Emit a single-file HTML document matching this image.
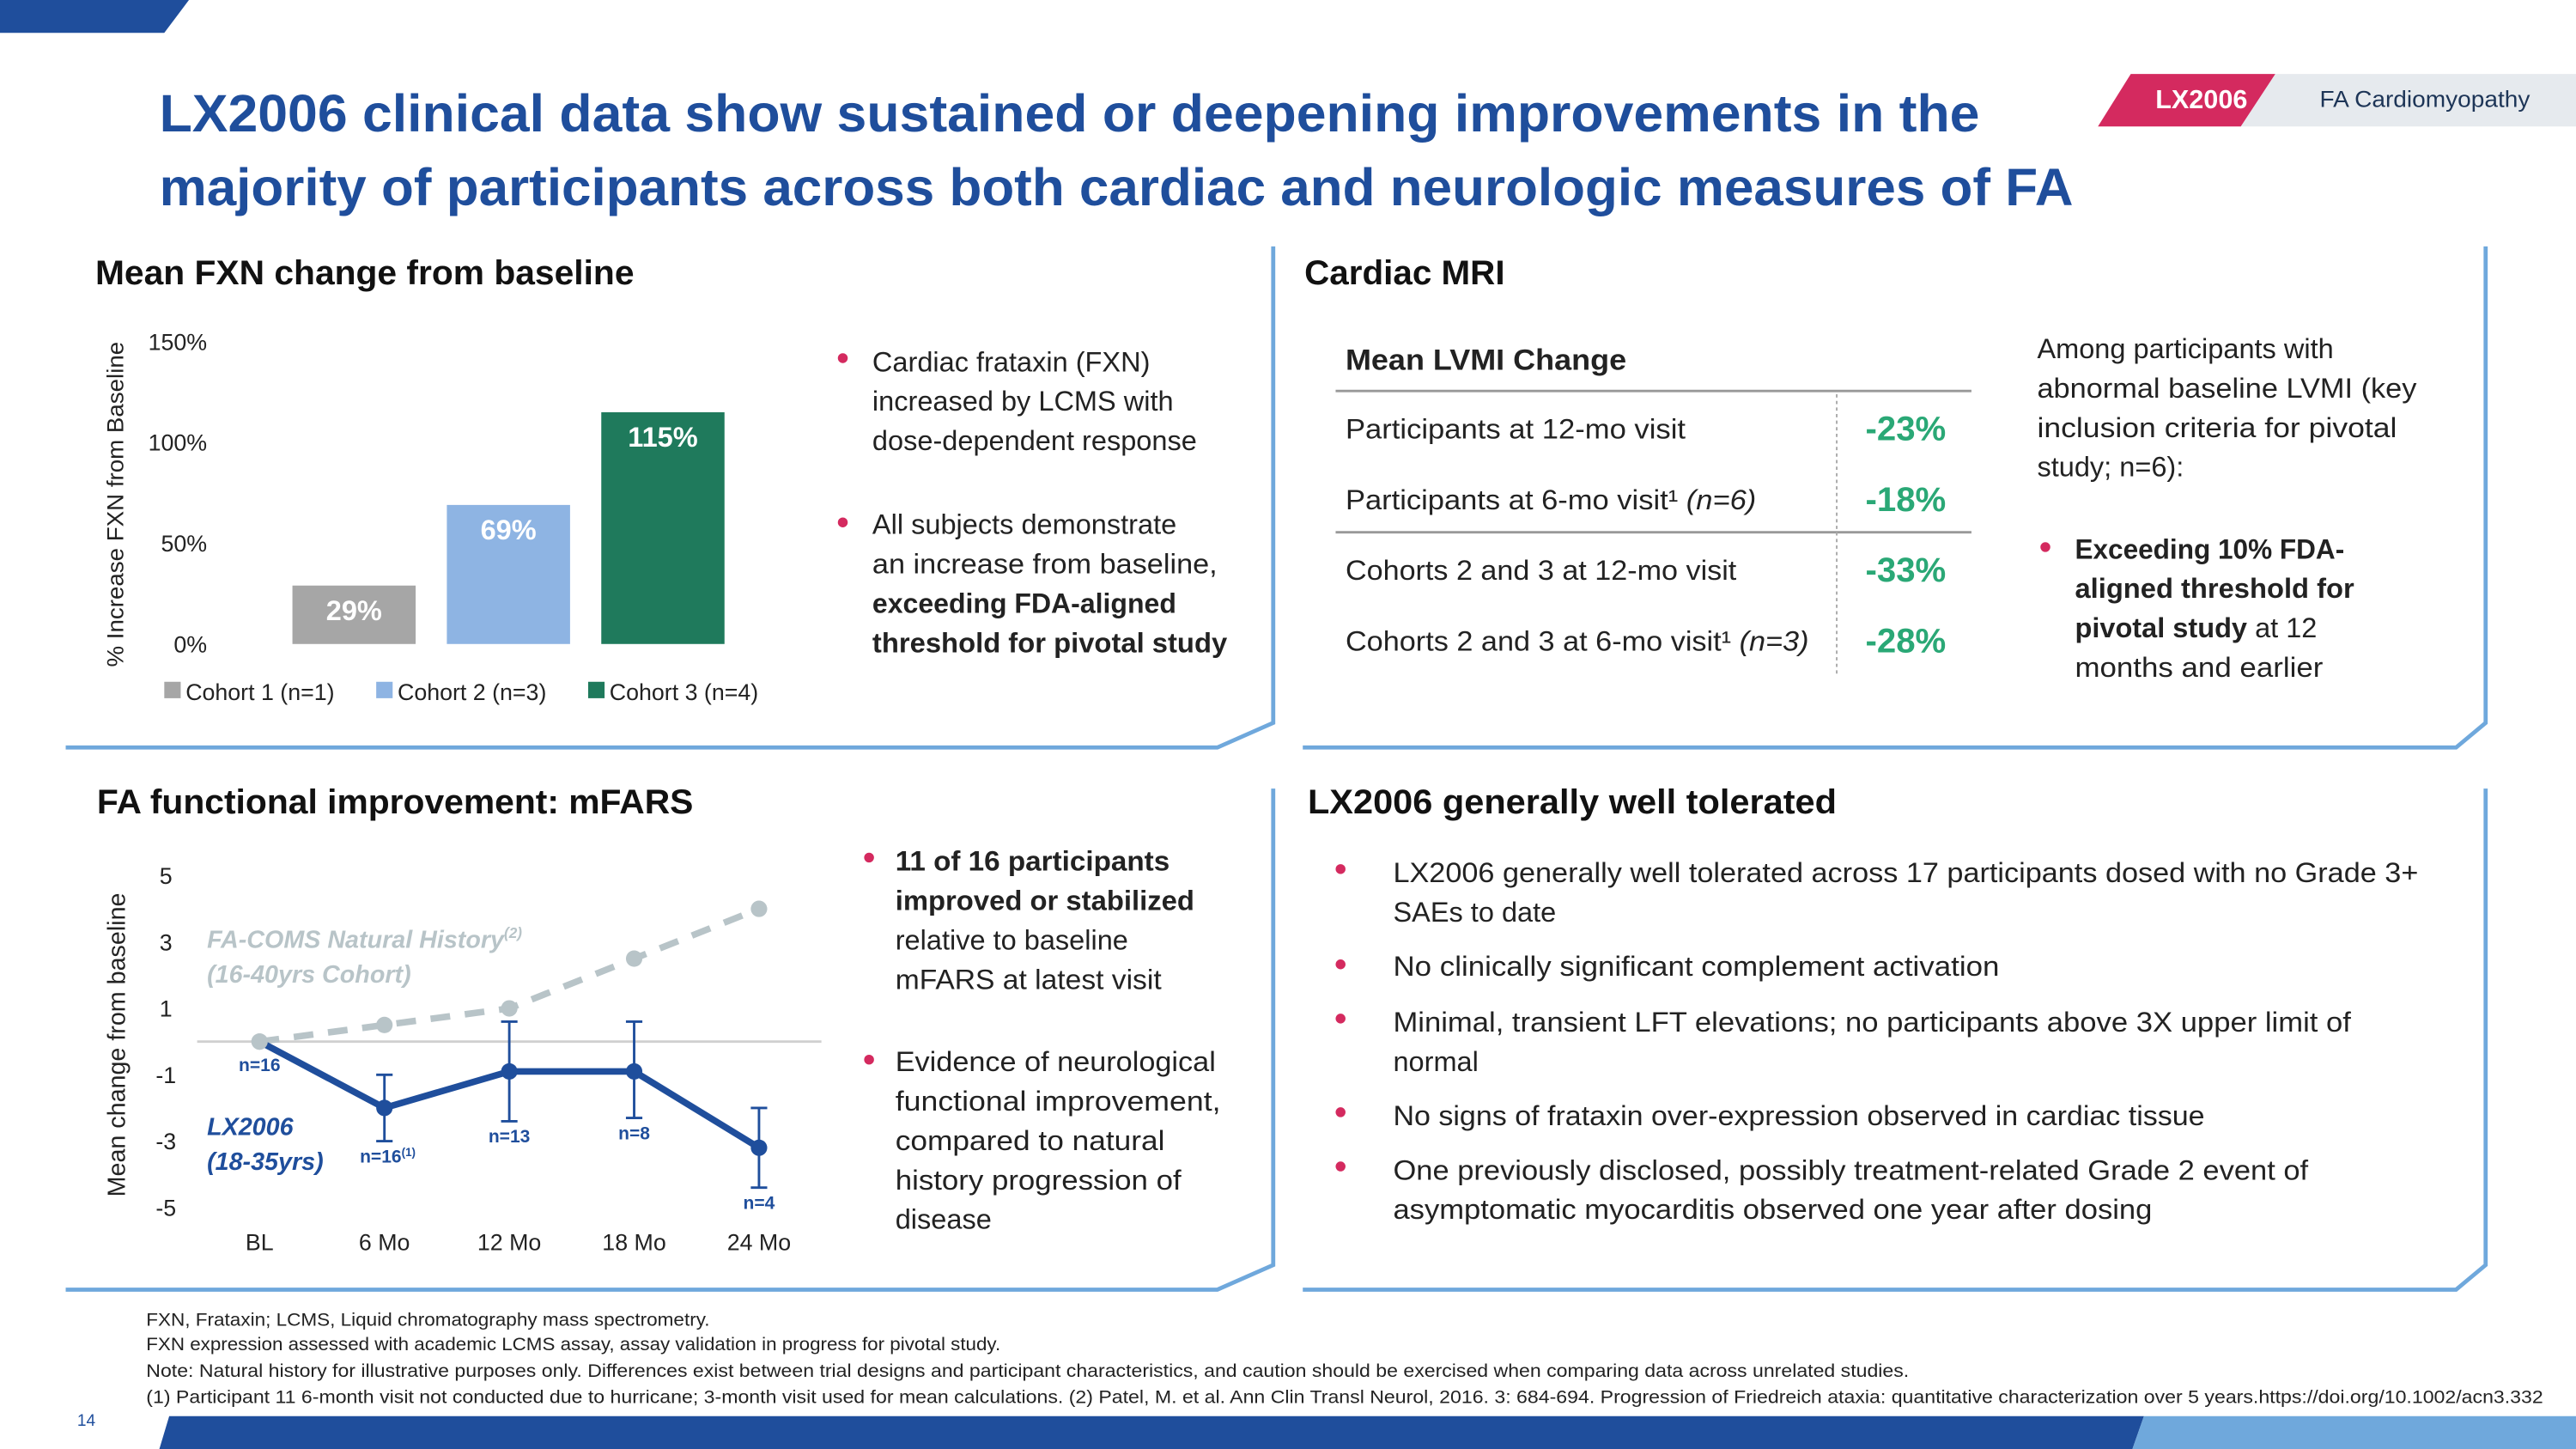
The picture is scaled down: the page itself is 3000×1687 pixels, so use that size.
<!DOCTYPE html>
<html><head><meta charset="utf-8"><style>
html,body{margin:0;padding:0;background:#fff}
svg{display:block;font-family:"Liberation Sans",sans-serif}
</style></head><body>
<svg id="page" width="3000" height="1687" viewBox="0 0 1568 882" preserveAspectRatio="none" xmlns="http://www.w3.org/2000/svg">
<polygon points="0,0 115,0 100,20 0,20" fill="#1f4e9c"/>
<polygon points="103,862 1305,862 1298,882 97,882" fill="#1f4e9c"/>
<polygon points="1305,862 1568,862 1568,882 1298,882" fill="#6fa8dc"/>
<text x="97" y="80" font-size="32" font-weight="bold" fill="#1f4e9c" textLength="1108" lengthAdjust="spacingAndGlyphs">LX2006 clinical data show sustained or deepening improvements in the</text>
<text x="97" y="125" font-size="32" font-weight="bold" fill="#1f4e9c" textLength="1165" lengthAdjust="spacingAndGlyphs">majority of participants across both cardiac and neurologic measures of FA</text>
<polygon points="1297,45 1385,45 1364,77 1277,77" fill="#d42a5f"/>
<polygon points="1385,45 1568,45 1568,77 1364,77" fill="#e6eaee"/>
<text x="1340" y="66" font-size="16" font-weight="bold" fill="#fff" text-anchor="middle" textLength="56" lengthAdjust="spacingAndGlyphs">LX2006</text>
<text x="1412" y="65" font-size="14" fill="#1d3557" textLength="128" lengthAdjust="spacingAndGlyphs">FA Cardiomyopathy</text>

<g fill="none" stroke="#6fa8dc" stroke-width="2.5">
<polyline points="775,150 775,440 741,455 40,455"/>
<polyline points="1513,150 1513,440 1495,455 793,455"/>
<polyline points="775,480 775,770 741,785 40,785"/>
<polyline points="1513,480 1513,770 1495,785 793,785"/>
</g>

<!-- Panel 1 -->
<text x="58" y="173" font-size="21" font-weight="bold" fill="#111" textLength="328" lengthAdjust="spacingAndGlyphs">Mean FXN change from baseline</text>
<text transform="translate(75,307) rotate(-90)" font-size="14" fill="#222" text-anchor="middle" textLength="198" lengthAdjust="spacingAndGlyphs">% Increase FXN from Baseline</text>
<g id="barchart"></g>
<g font-size="17" fill="#222">
<circle cx="513" cy="218" r="3" fill="#d42a5f"/>
<text x="531" y="226">Cardiac frataxin (FXN)</text>
<text x="531" y="250">increased by LCMS with</text>
<text x="531" y="274">dose-dependent response</text>
<circle cx="513" cy="318" r="3" fill="#d42a5f"/>
<text x="531" y="325">All subjects demonstrate</text>
<text x="531" y="349" textLength="210" lengthAdjust="spacingAndGlyphs">an increase from baseline,</text>
<text x="531" y="373" font-weight="bold" textLength="185" lengthAdjust="spacingAndGlyphs">exceeding FDA-aligned</text>
<text x="531" y="397" font-weight="bold" textLength="216" lengthAdjust="spacingAndGlyphs">threshold for pivotal study</text>
</g>

<!-- Panel 2 -->
<text x="794" y="173" font-size="21" font-weight="bold" fill="#111" textLength="122" lengthAdjust="spacingAndGlyphs">Cardiac MRI</text>
<g font-size="17" fill="#222">
<text x="819" y="225" font-weight="bold" font-size="18" textLength="171" lengthAdjust="spacingAndGlyphs">Mean LVMI Change</text>
<line x1="813" y1="238" x2="1200" y2="238" stroke="#999" stroke-width="1.5"/>
<line x1="813" y1="324" x2="1200" y2="324" stroke="#999" stroke-width="1.5"/>
<line x1="1118" y1="240" x2="1118" y2="410" stroke="#aaa" stroke-width="1" stroke-dasharray="2,2"/>
<text x="819" y="267" textLength="207" lengthAdjust="spacingAndGlyphs">Participants at 12-mo visit</text>
<text x="819" y="310" textLength="250" lengthAdjust="spacingAndGlyphs">Participants at 6-mo visit¹ <tspan font-style="italic">(n=6)</tspan></text>
<text x="819" y="353" textLength="238" lengthAdjust="spacingAndGlyphs">Cohorts 2 and 3 at 12-mo visit</text>
<text x="819" y="396" textLength="282" lengthAdjust="spacingAndGlyphs">Cohorts 2 and 3 at 6-mo visit¹ <tspan font-style="italic">(n=3)</tspan></text>
<g font-size="21" font-weight="bold" fill="#2aa876" text-anchor="middle">
<text x="1160" y="268">-23%</text>
<text x="1160" y="311">-18%</text>
<text x="1160" y="354">-33%</text>
<text x="1160" y="397">-28%</text>
</g>
</g>
<g font-size="17" fill="#222">
<text x="1240" y="218">Among participants with</text>
<text x="1240" y="242" textLength="231" lengthAdjust="spacingAndGlyphs">abnormal baseline LVMI (key</text>
<text x="1240" y="266" textLength="219" lengthAdjust="spacingAndGlyphs">inclusion criteria for pivotal</text>
<text x="1240" y="290">study; n=6):</text>
<circle cx="1245" cy="333" r="3" fill="#d42a5f"/>
<text x="1263" y="340" font-weight="bold" textLength="164" lengthAdjust="spacingAndGlyphs">Exceeding 10% FDA-</text>
<text x="1263" y="364" font-weight="bold" textLength="170" lengthAdjust="spacingAndGlyphs">aligned threshold for</text>
<text x="1263" y="388"><tspan font-weight="bold">pivotal study</tspan> at 12</text>
<text x="1263" y="412" textLength="151" lengthAdjust="spacingAndGlyphs">months and earlier</text>
</g>

<!-- Panel 3 -->
<text x="59" y="495" font-size="21" font-weight="bold" fill="#111" textLength="363" lengthAdjust="spacingAndGlyphs">FA functional improvement: mFARS</text>
<text transform="translate(76,636) rotate(-90)" font-size="15" fill="#222" text-anchor="middle" textLength="185" lengthAdjust="spacingAndGlyphs">Mean change from baseline</text>
<g id="linechart"></g>
<g font-size="17" fill="#222">
<circle cx="529" cy="522" r="3" fill="#d42a5f"/>
<text x="545" y="530" font-weight="bold" textLength="167" lengthAdjust="spacingAndGlyphs">11 of 16 participants</text>
<text x="545" y="554" font-weight="bold" textLength="182" lengthAdjust="spacingAndGlyphs">improved or stabilized</text>
<text x="545" y="578">relative to baseline</text>
<text x="545" y="602" textLength="162" lengthAdjust="spacingAndGlyphs">mFARS at latest visit</text>
<circle cx="529" cy="645" r="3" fill="#d42a5f"/>
<text x="545" y="652" textLength="195" lengthAdjust="spacingAndGlyphs">Evidence of neurological</text>
<text x="545" y="676" textLength="198" lengthAdjust="spacingAndGlyphs">functional improvement,</text>
<text x="545" y="700" textLength="164" lengthAdjust="spacingAndGlyphs">compared to natural</text>
<text x="545" y="724" textLength="174" lengthAdjust="spacingAndGlyphs">history progression of</text>
<text x="545" y="748">disease</text>
</g>

<!-- Panel 4 -->
<text x="796" y="495" font-size="21" font-weight="bold" fill="#111" textLength="322" lengthAdjust="spacingAndGlyphs">LX2006 generally well tolerated</text>
<g font-size="17" fill="#222">
<circle cx="816" cy="529" r="3" fill="#d42a5f"/>
<text x="848" y="537" textLength="624" lengthAdjust="spacingAndGlyphs">LX2006 generally well tolerated across 17 participants dosed with no Grade 3+</text>
<text x="848" y="561">SAEs to date</text>
<circle cx="816" cy="587" r="3" fill="#d42a5f"/>
<text x="848" y="594" textLength="369" lengthAdjust="spacingAndGlyphs">No clinically significant complement activation</text>
<circle cx="816" cy="620" r="3" fill="#d42a5f"/>
<text x="848" y="628" textLength="583" lengthAdjust="spacingAndGlyphs">Minimal, transient LFT elevations; no participants above 3X upper limit of</text>
<text x="848" y="652">normal</text>
<circle cx="816" cy="677" r="3" fill="#d42a5f"/>
<text x="848" y="685" textLength="494" lengthAdjust="spacingAndGlyphs">No signs of frataxin over-expression observed in cardiac tissue</text>
<circle cx="816" cy="710" r="3" fill="#d42a5f"/>
<text x="848" y="718" textLength="557" lengthAdjust="spacingAndGlyphs">One previously disclosed, possibly treatment-related Grade 2 event of</text>
<text x="848" y="742" textLength="462" lengthAdjust="spacingAndGlyphs">asymptomatic myocarditis observed one year after dosing</text>
</g>

<g font-size="11" fill="#222">
<text x="89" y="807" textLength="343" lengthAdjust="spacingAndGlyphs">FXN, Frataxin; LCMS, Liquid chromatography mass spectrometry.</text>
<text x="89" y="822" textLength="520" lengthAdjust="spacingAndGlyphs">FXN expression assessed with academic LCMS assay, assay validation in progress for pivotal study.</text>
<text x="89" y="838" textLength="1073" lengthAdjust="spacingAndGlyphs">Note: Natural history for illustrative purposes only. Differences exist between trial designs and participant characteristics, and caution should be exercised when comparing data across unrelated studies.</text>
<text x="89" y="854" textLength="1459" lengthAdjust="spacingAndGlyphs">(1) Participant 11 6-month visit not conducted due to hurricane; 3-month visit used for mean calculations. (2) Patel, M. et al. Ann Clin Transl Neurol, 2016. 3: 684-694. Progression of Friedreich ataxia: quantitative characterization over 5 years.https://doi.org/10.1002/acn3.332</text>
<text x="47" y="868" font-size="10" fill="#1f4e9c">14</text>
</g>

<script>
// ---- FXN bar chart data ----
const barCategories = ['Cohort 1 (n=1)', 'Cohort 2 (n=3)', 'Cohort 3 (n=4)'];
const barValues = [29, 69, 115];
const barTicks = [0, 50, 100, 150];
// ---- mFARS chart data ----
const lineCategories = ['BL', '6 Mo', '12 Mo', '18 Mo', '24 Mo'];
const lxValues = [0, -2.0, -0.9, -0.9, -3.2];
const lxErrHigh = [null, -1.0, 0.6, 0.6, -2.0];
const lxErrLow = [null, -3.0, -2.4, -2.3, -4.4];
const lxN = ['n=16', 'n=16', 'n=13', 'n=8', 'n=4'];
const nhValues = [0, 0.5, 1.0, 2.5, 4.0];
const lineTicks = [5, 3, 1, -1, -3, -5];

const NS = 'http://www.w3.org/2000/svg';
function mk(parent, tag, attrs, text) {
  const e = document.createElementNS(NS, tag);
  for (const k in attrs) e.setAttribute(k, attrs[k]);
  if (text !== undefined) e.textContent = text;
  parent.appendChild(e);
  return e;
}
// Bar chart
(function(){
  const g = document.getElementById('barchart');
  const y = v => 392 - v * (184 / 150);
  const x = i => 178 + i * 94;
  const colors = ['#a6a6a6', '#8eb4e3', '#1f7a5c'];
  barTicks.forEach(t => {
    const tx = mk(g, 'text', {x: 126, y: y(t) + 5, 'font-size': 14, fill: '#222', 'text-anchor': 'end'}, t + '%');
    
    
  });
  barValues.forEach((v, i) => {
    const r = mk(g, 'rect', {x: x(i), y: y(v), width: 75, height: y(0) - y(v), fill: colors[i]});
    
    
    const l = mk(g, 'text', {x: x(i) + 37.5, y: y(v) + 21, 'font-size': 17, 'font-weight': 'bold', fill: '#fff', 'text-anchor': 'middle'}, v + '%');
    
    
    const lx = [100, 229, 358][i];
    const sw = mk(g, 'rect', {x: lx, y: 415, width: 10, height: 10, fill: colors[i]});
    
    
    const lt = mk(g, 'text', {x: lx + 13, y: 426, 'font-size': 14, fill: '#222'}, barCategories[i]);
    
    
  });
})();
// Line chart
(function(){
  const g = document.getElementById('linechart');
  const y = v => 634 - v * 20.2;
  const x = i => 158 + i * 76;
  lineTicks.forEach(t => {
    const tx = mk(g, 'text', {x: 101, y: y(t) + 5, 'font-size': 14, fill: '#222', 'text-anchor': 'middle'}, String(t));
    
    
  });
  lineCategories.forEach((c, i) => {
    const tx = mk(g, 'text', {x: x(i), y: 761, 'font-size': 14, fill: '#222', 'text-anchor': 'middle'}, c);
    
    
  });
  const zl = mk(g, 'line', {x1: 120, y1: y(0), x2: 500, y2: y(0), stroke: '#d0d0d0', 'stroke-width': 1.5});
  
  
  const nh = mk(g, 'polyline', {points: nhValues.map((v, i) => x(i) + ',' + y(v)).join(' '), fill: 'none', stroke: '#b8c4c8', 'stroke-width': 4, 'stroke-dasharray': '12,9'});
  
  
  nhValues.forEach((v, i) => {
    const c = mk(g, 'circle', {cx: x(i), cy: y(v), r: 5, fill: '#b8c4c8'});
    
    
  });
  lxValues.forEach((v, i) => {
    if (lxErrHigh[i] === null) return;
    const e = mk(g, 'path', {d: 'M' + x(i) + ',' + y(lxErrHigh[i]) + 'V' + y(lxErrLow[i]) + 'M' + (x(i) - 5) + ',' + y(lxErrHigh[i]) + 'h10M' + (x(i) - 5) + ',' + y(lxErrLow[i]) + 'h10', stroke: '#1f4e9c', 'stroke-width': 1.5, fill: 'none'});
    
    
  });
  const lx = mk(g, 'polyline', {points: lxValues.map((v, i) => x(i) + ',' + y(v)).join(' '), fill: 'none', stroke: '#1f4e9c', 'stroke-width': 4});
  
  
  lxValues.forEach((v, i) => {
    const c = mk(g, 'circle', {cx: x(i), cy: y(v), r: 5, fill: i === 0 ? '#b8c4c8' : '#1f4e9c'});
    
    
    const ly = (i === 0) ? y(v) + 18 : y(lxErrLow[i]) + 13;
    const t = mk(g, 'text', {x: x(i) + (i === 1 ? 2 : 0), y: ly, 'font-size': 11, 'font-weight': 'bold', fill: '#1f4e9c', 'text-anchor': 'middle'}, lxN[i]);
    if (i === 1) { mk(t, 'tspan', {'font-size': 7, dy: -4}, '(1)'); }
    
    
  });
  const a = mk(g, 'text', {x: 126, y: 577, 'font-size': 15, 'font-style': 'italic', 'font-weight': 'bold', fill: '#b8c4c8'}, 'FA-COMS Natural History');
  mk(a, 'tspan', {'font-size': 9, dy: -6}, '(2)');
  
  
  const a2 = mk(g, 'text', {x: 126, y: 598, 'font-size': 15, 'font-style': 'italic', 'font-weight': 'bold', fill: '#b8c4c8'}, '(16-40yrs Cohort)');
  
  
  const b = mk(g, 'text', {x: 126, y: 691, 'font-size': 15, 'font-style': 'italic', 'font-weight': 'bold', fill: '#1f4e9c'}, 'LX2006');
  
  
  const b2 = mk(g, 'text', {x: 126, y: 712, 'font-size': 15, 'font-style': 'italic', 'font-weight': 'bold', fill: '#1f4e9c'}, '(18-35yrs)');
  
  
})();
</script>
</svg>
</body></html>
